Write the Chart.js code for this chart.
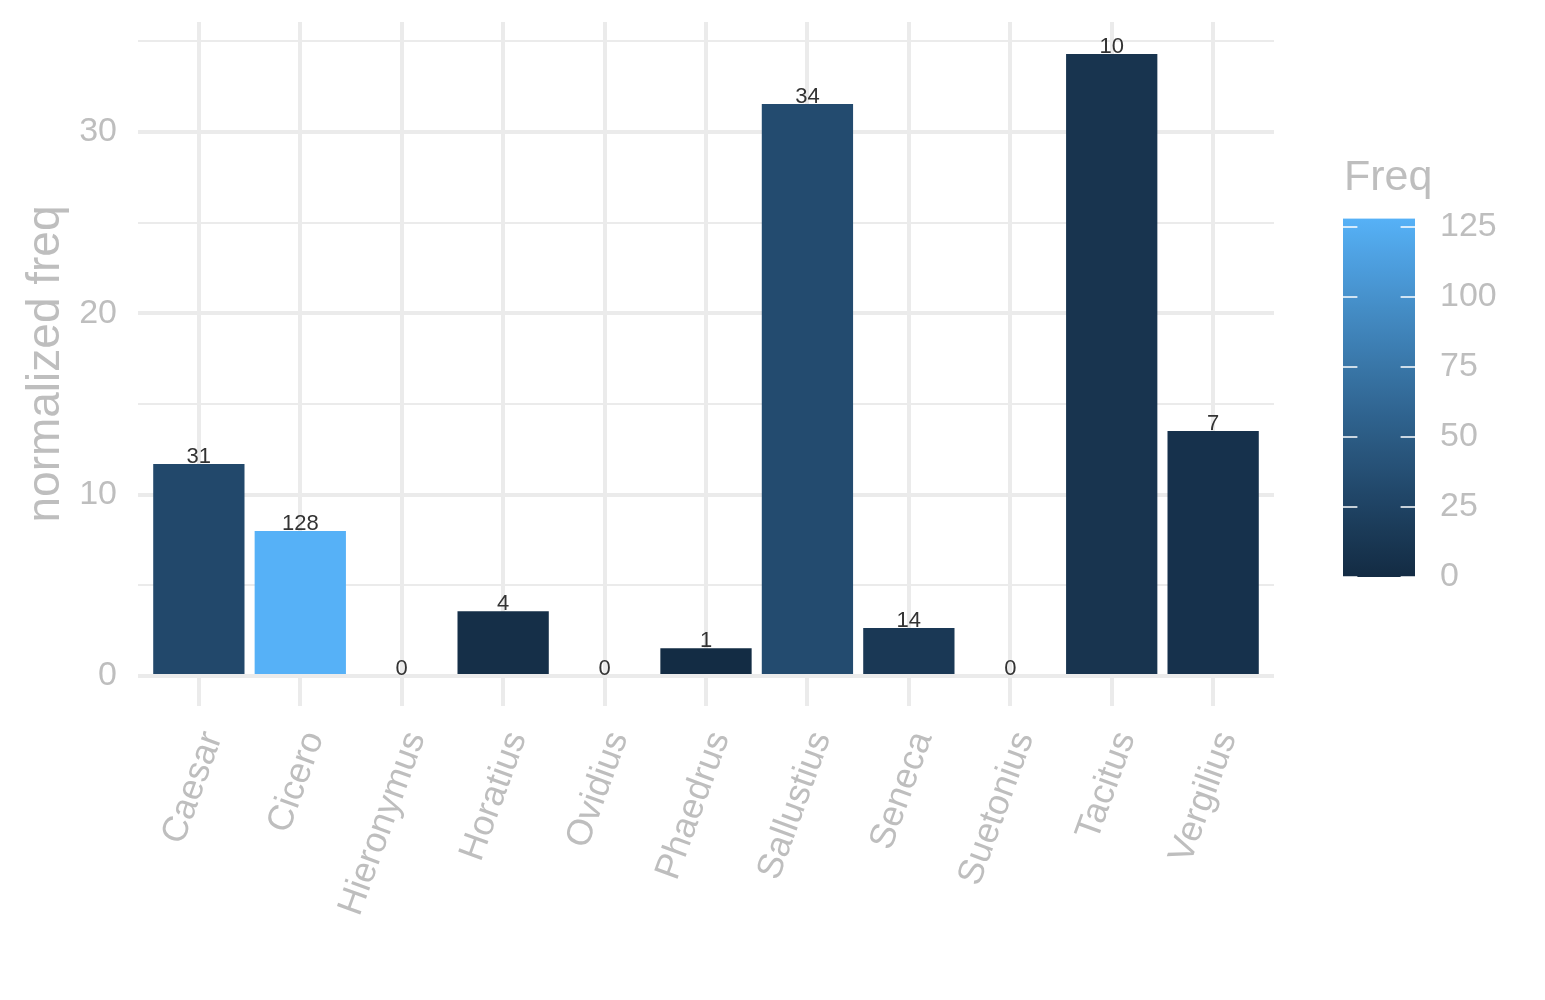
<!DOCTYPE html>
<html>
<head>
<meta charset="utf-8">
<script src="https://cdn.jsdelivr.net/npm/chart.js@4.4.1/dist/chart.umd.min.js"></script>
<style>
html,body{margin:0;padding:0;background:#fff;}
#wrap{width:1545px;height:1000px;}
</style>
</head>
<body>
<div id="wrap"><canvas id="chart"></canvas></div>
<script>
// ===== DATA =====
const authors = ["Caesar","Cicero","Hieronymus","Horatius","Ovidius","Phaedrus","Sallustius","Seneca","Suetonius","Tacitus","Vergilius"];
const normFreq = [11.69, 8.0, 0, 3.58, 0, 1.54, 31.55, 2.65, 0, 34.3, 13.51];
const freq = [31, 128, 0, 4, 0, 1, 34, 14, 0, 10, 7];
const yTicks = [0,5,10,15,20,25,30,35];
const yLabelTicks = [0,10,20,30];
const freqTicks = [0,25,50,75,100,125];

const LOW = "#132B43", HIGH = "#56B1F7";
const GREY = "#BEBEBE", GRID = "#EBEBEB";
const FONT = "'Liberation Sans', Arial, sans-serif";
const freqMin = Math.min(...freq), freqMax = Math.max(...freq);

// ===== COLOUR RAMP (CIELAB, like ggplot) =====
function hexRgb(h){ return [1,3,5].map(i=>parseInt(h.substr(i,2),16)); }
function toLab(rgb){
    let [r,g,b] = rgb.map(v=>{ v/=255; return v<=0.04045 ? v/12.92 : Math.pow((v+0.055)/1.055,2.4); });
    let X = (r*0.4124+g*0.3576+b*0.1805)/0.95047;
    let Y = (r*0.2126+g*0.7152+b*0.0722);
    let Z = (r*0.0193+g*0.1192+b*0.9505)/1.08883;
    let f = t => t>0.008856 ? Math.cbrt(t) : 7.787*t+16/116;
    return [116*f(Y)-16, 500*(f(X)-f(Y)), 200*(f(Y)-f(Z))];
}
function fromLab(lab){
    let fy=(lab[0]+16)/116, fx=fy+lab[1]/500, fz=fy-lab[2]/200;
    let inv = t => t*t*t>0.008856 ? t*t*t : (t-16/116)/7.787;
    let X=inv(fx)*0.95047, Y=inv(fy), Z=inv(fz)*1.08883;
    let r= X*3.2406+Y*-1.5372+Z*-0.4986;
    let g= X*-0.9689+Y*1.8758+Z*0.0415;
    let b= X*0.0557+Y*-0.2040+Z*1.0570;
    return [r,g,b].map(v=>{
        v = v<=0.0031308 ? 12.92*v : 1.055*Math.pow(v,1/2.4)-0.055;
        return Math.round(Math.max(0,Math.min(1,v))*255);
    });
}
const labLow = toLab(hexRgb(LOW)), labHigh = toLab(hexRgb(HIGH));
function ramp(t){
    let c = fromLab(labLow.map((v,i)=>v+(labHigh[i]-v)*t));
    return `rgb(${c[0]},${c[1]},${c[2]})`;
}
function freqColor(f){ return ramp((f-freqMin)/(freqMax-freqMin)); }

// ===== BAR LABELS =====
const barLabels = {
    id:"barLabels",
    afterDatasetsDraw(chart){
        const c = chart.ctx;
        const meta = chart.getDatasetMeta(0);
        c.save();
        c.font = "22px " + FONT;
        c.fillStyle = "#333333";
        c.textAlign = "center";
        c.textBaseline = "alphabetic";
        meta.data.forEach((bar,i)=>{
            c.fillText(String(freq[i]), bar.x, bar.y - 1);
        });
        c.restore();
    }
};

// ===== COLOURBAR LEGEND =====
const colorbar = {
    id:"colorbar",
    afterDraw(chart){
        const c = chart.ctx;
        const x0 = 1343, w = 72, yBot = 577;
        const pxPerUnit = 2.8;
        const yTop = yBot - (freqMax-freqMin)*pxPerUnit;
        const yOf = v => yBot - (v-freqMin)*pxPerUnit;
        c.save();
        let grad = c.createLinearGradient(0,yBot,0,yTop);
        for(let k=0;k<=20;k++) grad.addColorStop(k/20, ramp(k/20));
        c.fillStyle = grad;
        c.fillRect(x0, yTop, w, yBot-yTop);

        c.strokeStyle = "#ffffff";
        c.lineWidth = 1.5;
        freqTicks.forEach(v=>{
            let y = yOf(v);
            c.beginPath();
            c.moveTo(x0, y); c.lineTo(x0+w/5, y);
            c.moveTo(x0+w*4/5, y); c.lineTo(x0+w, y);
            c.stroke();
        });

        c.fillStyle = GREY;
        c.font = "34px " + FONT;
        c.textAlign = "left";
        c.textBaseline = "middle";
        freqTicks.forEach(v=> c.fillText(String(v), x0+w+25, yOf(v)));

        c.font = "43px " + FONT;
        c.textBaseline = "alphabetic";
        c.fillText("Freq", x0+1, 190);
        c.restore();
    }
};

// ===== CHART =====
const ctx = document.getElementById("chart").getContext("2d");
new Chart(ctx, {
    type:"bar",
    data:{
        datasets:[{
            data: normFreq.map((v,i)=>({x:i, y:v})),
            backgroundColor: freq.map(freqColor),
            borderWidth:0,
            barPercentage:0.9,
            categoryPercentage:1.0
        }]
    },
    options:{
        responsive:true,
        maintainAspectRatio:false,
        animation:false,
        layout:{padding:{top:22, right:271, left:0, bottom:0}},
        plugins:{legend:{display:false}, tooltip:{enabled:false}},
        scales:{
            x:{
                type:"linear",
                offset:false,
                min:-0.6, max:authors.length-0.4,
                afterBuildTicks: axis => { axis.ticks = authors.map((_,i)=>({value:i})); },
                afterFit: axis => { axis.height = 294; axis.paddingLeft = 0; axis.paddingRight = 0; },
                border:{display:false},
                grid:{color:GRID, lineWidth:4, drawTicks:false, offset:false},
                ticks:{
                    autoSkip:false, minRotation:70, maxRotation:70,
                    padding:20, labelOffset:14,
                    color:GREY, font:{family:FONT, size:36},
                    callback: v => authors[v]
                }
            },
            y:{
                min:-1.65, max:36.07,
                afterBuildTicks: axis => { axis.ticks = yTicks.map(v=>({value:v})); },
                afterFit: axis => { axis.width = 138; axis.paddingTop = 0; axis.paddingBottom = 0; },
                border:{display:false},
                grid:{
                    color:GRID, drawTicks:false,
                    lineWidth: c => yLabelTicks.includes(c.tick.value) ? 4 : 2
                },
                ticks:{
                    padding:21, color:GREY, font:{family:FONT, size:34},
                    callback: v => yLabelTicks.includes(v) ? String(v) : ""
                },
                title:{
                    display:true, text:"normalized freq", color:GREY,
                    font:{family:FONT, size:46}, padding:{top:19, bottom:0}
                }
            }
        }
    },
    plugins:[barLabels, colorbar]
});
</script>
</body>
</html>
